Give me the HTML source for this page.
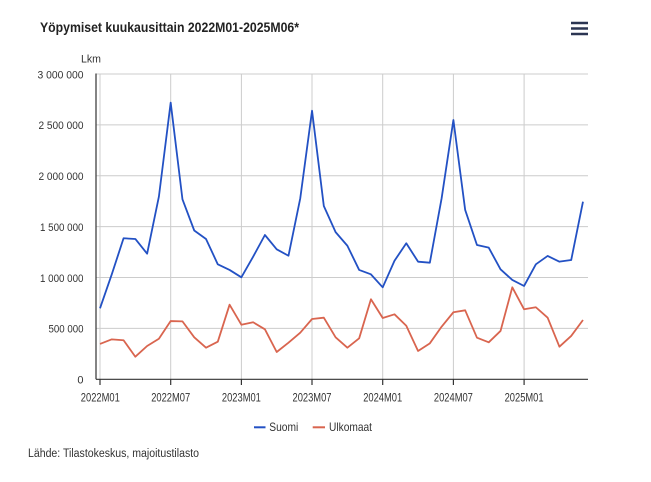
<!DOCTYPE html>
<html>
<head>
<meta charset="utf-8">
<style>
html,body{margin:0;padding:0;background:#fff;}
svg{display:block;}
text{font-family:"Liberation Sans",sans-serif;}
</style>
</head>
<body>
<svg width="651" height="482" viewBox="0 0 651 482" xmlns="http://www.w3.org/2000/svg">
<rect width="651" height="482" fill="#fff"/>
<!-- title -->
<text x="40" y="32" font-size="14" font-weight="bold" fill="#222" textLength="259" lengthAdjust="spacingAndGlyphs">Yöpymiset kuukausittain 2022M01-2025M06*</text>
<!-- hamburger -->
<g stroke="#2b3552" stroke-width="2.4">
<line x1="571" y1="23" x2="588" y2="23"/>
<line x1="571" y1="28.5" x2="588" y2="28.5"/>
<line x1="571" y1="34" x2="588" y2="34"/>
</g>
<!-- gridlines horizontal -->
<g stroke="#cccccc" stroke-width="1">
<line x1="96" y1="74" x2="588" y2="74"/>
<line x1="96" y1="124.9" x2="588" y2="124.9"/>
<line x1="96" y1="175.8" x2="588" y2="175.8"/>
<line x1="96" y1="226.6" x2="588" y2="226.6"/>
<line x1="96" y1="277.5" x2="588" y2="277.5"/>
<line x1="96" y1="328.4" x2="588" y2="328.4"/>
</g>
<!-- gridlines vertical -->
<g stroke="#cccccc" stroke-width="1">
<line x1="100" y1="74" x2="100" y2="379"/>
<line x1="170.7" y1="74" x2="170.7" y2="379"/>
<line x1="241.4" y1="74" x2="241.4" y2="379"/>
<line x1="312" y1="74" x2="312" y2="379"/>
<line x1="382.7" y1="74" x2="382.7" y2="379"/>
<line x1="453.4" y1="74" x2="453.4" y2="379"/>
<line x1="524.1" y1="74" x2="524.1" y2="379"/>
</g>
<!-- axes -->
<g stroke="#333" stroke-width="1.2">
<line x1="96" y1="73.5" x2="96" y2="379.3"/>
<line x1="96" y1="379.3" x2="588" y2="379.3"/>
<line x1="100" y1="379.3" x2="100" y2="385"/>
<line x1="170.7" y1="379.3" x2="170.7" y2="385"/>
<line x1="241.4" y1="379.3" x2="241.4" y2="385"/>
<line x1="312" y1="379.3" x2="312" y2="385"/>
<line x1="382.7" y1="379.3" x2="382.7" y2="385"/>
<line x1="453.4" y1="379.3" x2="453.4" y2="385"/>
<line x1="524.1" y1="379.3" x2="524.1" y2="385"/>
</g>
<!-- y labels -->
<g font-size="11" fill="#333" text-anchor="end">
<text x="101" y="62.3" textLength="20" lengthAdjust="spacingAndGlyphs">Lkm</text>
<text x="83.5" y="78.3" textLength="46" lengthAdjust="spacingAndGlyphs">3 000 000</text>
<text x="83.5" y="129.2" textLength="45" lengthAdjust="spacingAndGlyphs">2 500 000</text>
<text x="83.5" y="180.1" textLength="45" lengthAdjust="spacingAndGlyphs">2 000 000</text>
<text x="83.5" y="230.9" textLength="43.5" lengthAdjust="spacingAndGlyphs">1 500 000</text>
<text x="83.5" y="281.8" textLength="43.5" lengthAdjust="spacingAndGlyphs">1 000 000</text>
<text x="83.5" y="332.7" textLength="35" lengthAdjust="spacingAndGlyphs">500 000</text>
<text x="83.5" y="383.6">0</text>
</g>
<!-- x labels -->
<g font-size="11.5" fill="#333" text-anchor="middle">
<text x="100.3" y="401.7" textLength="39" lengthAdjust="spacingAndGlyphs">2022M01</text>
<text x="170.7" y="401.7" textLength="39" lengthAdjust="spacingAndGlyphs">2022M07</text>
<text x="241.4" y="401.7" textLength="39" lengthAdjust="spacingAndGlyphs">2023M01</text>
<text x="312" y="401.7" textLength="39" lengthAdjust="spacingAndGlyphs">2023M07</text>
<text x="382.7" y="401.7" textLength="39" lengthAdjust="spacingAndGlyphs">2024M01</text>
<text x="453.4" y="401.7" textLength="39" lengthAdjust="spacingAndGlyphs">2024M07</text>
<text x="524.1" y="401.7" textLength="39" lengthAdjust="spacingAndGlyphs">2025M01</text>
</g>
<!-- series -->
<g transform="translate(100,379.3) scale(11.78,-0.1022)">
<polyline fill="none" stroke="#d9654f" stroke-width="1.8" stroke-linejoin="round" vector-effect="non-scaling-stroke"
points="0,346 1,391 2,382 3,221 4,326 5,397 6,570 7,567 8,411 9,309 10,368 11,730 12,534 13,558 14,489 15,267 16,358 17,456 18,590 19,603 20,411 21,309 22,401 23,783 24,600 25,636 26,524 27,277 28,352 29,515 30,656 31,675 32,407 33,362 34,473 35,900 36,685 37,705 38,603 39,319 40,424 41,580"/>
<polyline fill="none" stroke="#2351c4" stroke-width="1.8" stroke-linejoin="round" vector-effect="non-scaling-stroke"
points="0,695 1,1027 2,1380 3,1373 4,1229 5,1788 6,2707 7,1761 8,1456 9,1373 10,1125 11,1070 12,998 13,1200 14,1412 15,1272 16,1209 17,1771 18,2628 19,1696 20,1440 21,1307 22,1070 23,1027 24,900 25,1160 26,1331 27,1151 28,1141 29,1771 30,2537 31,1657 32,1314 33,1288 34,1076 35,972 36,913 37,1125 38,1207 39,1151 40,1167 41,1738"/>
</g>
<!-- legend -->
<line x1="254" y1="427.3" x2="265.5" y2="427.3" stroke="#2351c4" stroke-width="2"/>
<text x="269.3" y="431.2" font-size="12" fill="#333" textLength="29" lengthAdjust="spacingAndGlyphs">Suomi</text>
<line x1="312.7" y1="427.3" x2="325" y2="427.3" stroke="#d9654f" stroke-width="2"/>
<text x="329" y="431.2" font-size="12" fill="#333" textLength="43" lengthAdjust="spacingAndGlyphs">Ulkomaat</text>
<!-- source -->
<text x="28" y="457" font-size="11.5" fill="#333" textLength="171" lengthAdjust="spacingAndGlyphs">Lähde: Tilastokeskus, majoitustilasto</text>
</svg>
</body>
</html>
